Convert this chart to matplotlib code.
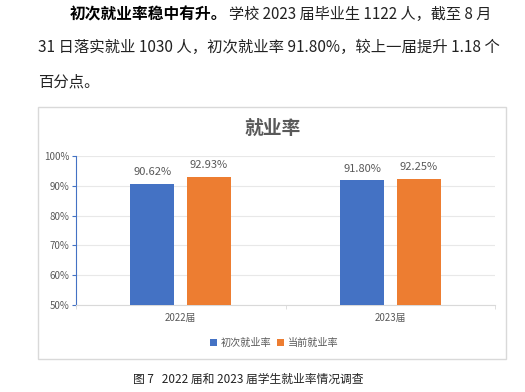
import numpy as np
import matplotlib.pyplot as plt
from matplotlib.patches import Rectangle

plt.rcParams['font.family'] = ['Noto Sans CJK SC', 'DejaVu Sans']

categories = ['2022届', '2023届']
series_names = ['初次就业率', '当前就业率']
first_rate = [90.62, 91.80]
current_rate = [92.93, 92.25]
yticks = [50, 60, 70, 80, 90, 100]

blue = '#4472C4'
orange = '#ED7D31'
gray = '#595959'
W, H = 525, 392

fig = plt.figure(figsize=(5.25, 3.92), dpi=100)
renderer = fig.canvas.get_renderer()


def fitted_text(s, x0, x1, y, **kw):
    # put text from x0 and scale font so that it ends near x1 (pixels)
    t = fig.text(x0 / W, 1 - y / H, s, fontsize=10, va='center', ha='left', **kw)
    wpx = t.get_window_extent(renderer).width
    t.set_fontsize(10 * (x1 - x0) / wpx)
    return t


# paragraph above the chart
txt = '#222222'
fitted_text('初次就业率稳中有升。', 70, 227, 14, fontweight='bold', color='black')
fitted_text('学校 2023 届毕业生 1122 人，截至 8 月', 229, 492, 14, color=txt)
l2 = fitted_text('31 日落实就业 1030 人，初次就业率 91.80%，较上一届提升 1.18 个', 38, 500, 47, color=txt)
fig.text(38 / W, 1 - 82 / H, '百分点。', fontsize=l2.get_fontsize(), color=txt,
         va='center', ha='left')

# chart frame
fig.patches.append(Rectangle((38 / W, 1 - 359 / H), 468 / W, 252 / H,
                             transform=fig.transFigure, fill=False,
                             edgecolor='#d9d9d9', linewidth=1.0))
fig.text(273 / W, 1 - 128 / H, '就业率', fontsize=13.5, fontweight='bold',
         color=gray, ha='center', va='center')

ax = fig.add_axes([76 / W, 1 - 305 / H, 419 / W, 149 / H])
x = np.arange(len(categories))
w = 0.21
off = 0.135
b1 = ax.bar(x - off, first_rate, w, color=blue, label=series_names[0], zorder=3)
b2 = ax.bar(x + off, current_rate, w, color=orange, label=series_names[1], zorder=3)
for bars, vals in ((b1, first_rate), (b2, current_rate)):
    for r, v in zip(bars, vals):
        ax.text(r.get_x() + r.get_width() / 2, v + 2.3, f'{v:.2f}%', ha='center',
                va='bottom', fontsize=8, color=gray)

ax.set_xlim(-0.5, 1.5)
ax.set_ylim(50, 100)
ax.set_yticks(yticks)
ax.set_yticklabels([f'{t}%' for t in yticks], fontsize=7, color=gray)
ax.yaxis.grid(True, color='#e8e8e8', linewidth=0.8, zorder=0)
ax.set_xticks(x)
ax.set_xticklabels(categories, fontsize=7, color=gray)
ax.tick_params(axis='x', length=0, pad=6)
ax.set_xticks([-0.5, 0.5, 1.5], minor=True)
ax.tick_params(axis='x', which='minor', length=3, color='#d9d9d9')
ax.tick_params(axis='y', length=3, color=blue, pad=2)
for s in ('top', 'right'):
    ax.spines[s].set_visible(False)
ax.spines['left'].set_color(blue)
ax.spines['bottom'].set_color('#d9d9d9')

fig.legend(handles=[b1, b2], loc='center', bbox_to_anchor=(274 / W, 1 - 343 / H),
           ncol=2, frameon=False, fontsize=7.3, labelcolor=gray, handlelength=0.7,
           handleheight=0.7, handletextpad=0.4, columnspacing=0.5)

fitted_text('图 7   2022 届和 2023 届学生就业率情况调查', 133, 364, 379, color='#222222')

fig.savefig('out.png', dpi=100)
